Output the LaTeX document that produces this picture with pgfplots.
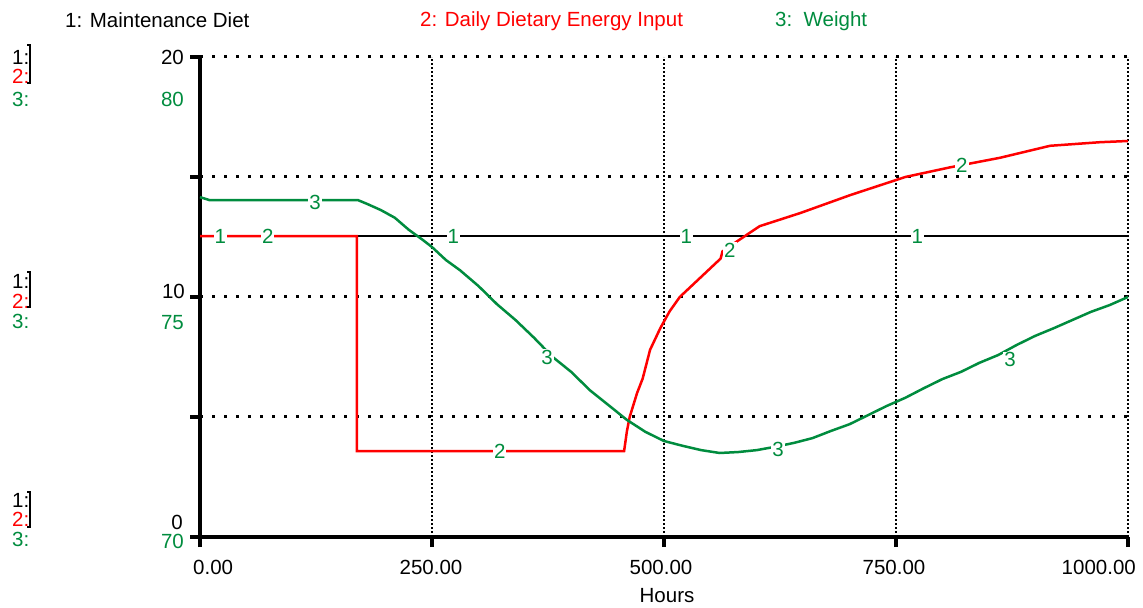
\documentclass[border=0pt]{standalone}
\usepackage{pgfplots}
\pgfplotsset{compat=1.18}
\usepackage{fontspec}
\setmainfont{Liberation Sans}
\definecolor{sgreen}{RGB}{0,140,62}
\definecolor{sred}{RGB}{255,0,0}
\tikzset{lbl/.style={fill=white, text=sgreen, inner sep=1bp, font=\fontsize{20.5bp}{24bp}\selectfont}}
\begin{document}
\begin{tikzpicture}[font=\fontsize{20.5bp}{24bp}\selectfont]
\begin{axis}[
  at={(200bp,71bp)}, anchor=south west,
  scale only axis, width=928bp, height=480bp,
  xmin=0, xmax=1000, ymin=0, ymax=20,
  axis x line*=bottom, axis y line*=left,
  axis line style={line width=4bp, -},
  xtick={0,250,500,750,1000}, ytick={0,5,10,15,20},
  xticklabels={}, yticklabels={},
  tick align=outside, major tick length=10bp,
  tick style={line width=4bp, black},
  xmajorgrids, ymajorgrids,
  x grid style={black, line width=1.6bp, dash pattern=on 2bp off 2bp},
  y grid style={black, line width=3bp, dash pattern=on 3bp off 9bp},
  clip=false,
]
% 1: Maintenance Diet
\addplot[black, line width=2.5bp] coordinates {(0,12.54) (1000,12.54)};
% 2: Daily Dietary Energy Input
\addplot[sred, line width=2.5bp] coordinates {
(0,12.54) (169,12.54) (169,3.58) (457,3.58) (460,4.4) (463,5.0) (467,5.5) (471,6.0)
(477,6.6) (485,7.8) (496,8.7) (506,9.4) (517,10.0) (528,10.4) (539,10.8) (550,11.2)
(561,11.6) (563,11.9) (578,12.3) (603,12.95) (647,13.5) (701,14.25) (760,15.0)
(808,15.4) (862,15.8) (916,16.3) (970,16.45) (1000,16.5)};
\node[lbl] at (axis cs:22,12.54) {1};
\node[lbl] at (axis cs:273,12.54) {1};
\node[lbl] at (axis cs:524,12.54) {1};
\node[lbl] at (axis cs:773,12.54) {1};
\node[lbl] at (axis cs:73,12.54) {2};
\node[lbl] at (axis cs:323,3.58) {2};
\node[lbl] at (axis cs:571,11.96) {2};
\node[lbl] at (axis cs:821,15.5) {2};
\end{axis}
\begin{axis}[
  at={(200bp,71bp)}, anchor=south west,
  scale only axis, width=928bp, height=480bp,
  xmin=0, xmax=1000, ymin=70, ymax=80,
  hide axis, clip=false,
]
% 3: Weight
\addplot[sgreen, line width=2.5bp] coordinates {
(0,77.08) (10,77.02) (170,77.02) (180,76.94) (195,76.81) (210,76.65) (225,76.40)
(240,76.19) (250,76.04) (265,75.77) (280,75.56) (300,75.23) (320,74.85) (340,74.52)
(360,74.15) (380,73.75) (400,73.44) (420,73.06) (440,72.75) (460,72.44) (480,72.19)
(500,72.00) (520,71.90) (540,71.81) (560,71.75) (580,71.77) (600,71.81) (620,71.88)
(640,71.96) (660,72.06) (680,72.21) (700,72.35) (720,72.54) (740,72.73) (760,72.90)
(780,73.10) (800,73.29) (820,73.44) (840,73.63) (860,73.79) (880,74.00) (900,74.19)
(920,74.35) (940,74.52) (960,74.69) (980,74.83) (1000,75.00)};
\node[lbl] at (axis cs:124,76.96) {3};
\node[lbl] at (axis cs:374,73.75) {3};
\node[lbl] at (axis cs:623,71.83) {3};
\node[lbl] at (axis cs:873,73.69) {3};
\end{axis}
% legend
\node[anchor=base west, inner sep=0] at (65bp,580bp) {1: Maintenance Diet};
\node[anchor=base west, inner sep=0, text=sred] at (420bp,581bp) {2: Daily Dietary Energy Input};
\node[anchor=base west, inner sep=0, text=sgreen] at (775bp,581bp) {3:\ \ Weight};
% x tick labels
\node[anchor=base west, inner sep=0] at (193bp,34bp) {0.00};
\node[anchor=base, inner sep=0] at (431bp,34bp) {250.00};
\node[anchor=base, inner sep=0] at (661bp,34bp) {500.00};
\node[anchor=base, inner sep=0] at (894bp,34bp) {750.00};
\node[anchor=base east, inner sep=0] at (1136bp,34bp) {1000.00};
\node[anchor=base, inner sep=0] at (667bp,6bp) {Hours};
% left scales
\node[anchor=east, inner sep=0] at (184bp,551bp) {20};
\node[anchor=east, inner sep=0, text=sgreen] at (184bp,509bp) {80};
\node[anchor=east, inner sep=0] at (185bp,317bp) {10};
\node[anchor=east, inner sep=0, text=sgreen] at (184bp,285bp) {75};
\node[anchor=east, inner sep=0] at (183bp,86bp) {0};
\node[anchor=east, inner sep=0, text=sgreen] at (184bp,67bp) {70};
\foreach \a/\b/\c in {551/532/509, 327/307/287, 108/89/69}{
  \node[anchor=west, inner sep=0] at (12bp,\a bp) {1:};
  \node[anchor=west, inner sep=0, text=sred] at (12bp,\b bp) {2:};
  \node[anchor=west, inner sep=0, text=sgreen] at (12bp,\c bp) {3:};
}
\draw[line width=1.2bp] (27bp,563bp) -- (30bp,563bp) -- (30bp,525bp) -- (27bp,525bp);
\draw[line width=1.2bp] (27bp,336bp) -- (30bp,336bp) -- (30bp,301bp) -- (27bp,301bp);
\draw[line width=1.2bp] (27bp,116bp) -- (30bp,116bp) -- (30bp,81bp) -- (27bp,81bp);
\pgfresetboundingbox
\path[use as bounding box] (0,0) rectangle (1143bp,608bp);
\end{tikzpicture}
\end{document}
